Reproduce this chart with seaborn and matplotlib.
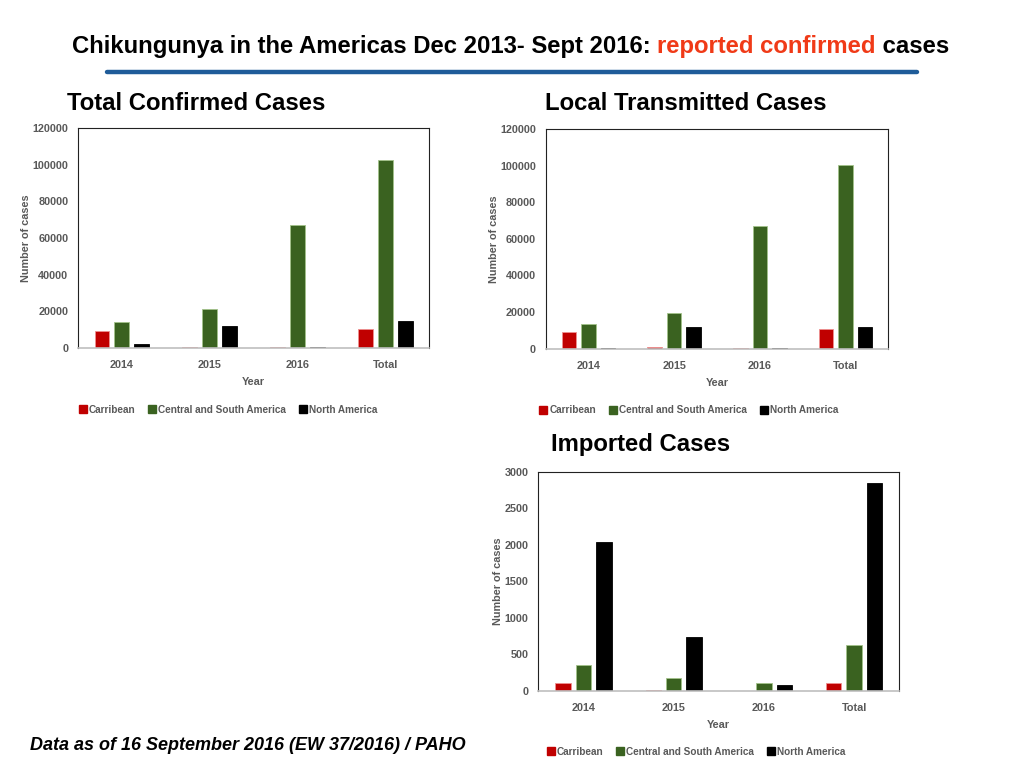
import pandas as pd
import numpy as np
import seaborn as sns
import matplotlib.pyplot as plt
from matplotlib.lines import Line2D

sns.set_style('white')
plt.rcParams['font.family'] = ['Liberation Sans', 'DejaVu Sans']
plt.rcParams['text.color'] = 'black'

# 数据
years = ['2014', '2015', '2016', 'Total']
regions = ['Carribean', 'Central and South America', 'North America']
colors = ['#C00000', '#3A6220', '#000000']
edges = ['#EE9090', '#A3C28A', '#000000']

total_carib = [9450, 730, 300, 10400]
total_csa = [14000, 21500, 66900, 102700]
total_na = [2400, 11800, 300, 14900]

local_carib = [9100, 1100, 350, 10600]
local_csa = [13700, 19300, 66900, 100100]
local_na = [550, 11700, 500, 12000]

imp_carib = [105, 15, 0, 105]
imp_csa = [352, 175, 105, 630]
imp_na = [2040, 730, 75, 2845]


def make_df(carib, csa, na):
    rows = []
    for reg, vals in zip(regions, [carib, csa, na]):
        for y, v in zip(years, vals):
            rows.append({'Year': y, 'Region': reg, 'Cases': v})
    return pd.DataFrame(rows)


gray = '#595959'

fig = plt.figure(figsize=(10.24, 7.68), dpi=100)


def draw(rect, df, ymax, step, leg_x):
    ax = fig.add_axes(rect)
    sns.barplot(data=df, x='Year', y='Cases', hue='Region', hue_order=regions,
                palette=colors, saturation=1, width=0.68, gap=0.25, ax=ax, legend=False)
    for i, cont in enumerate(ax.containers):
        for bar in cont:
            bar.set_edgecolor(edges[i])
            bar.set_linewidth(0.6)
    ax.set_ylim(0, ymax)
    ax.set_yticks(np.arange(0, ymax + 1, step))
    ax.set_xlim(-0.5, 3.5)
    for s in ['top', 'right', 'left']:
        ax.spines[s].set_color('#222222')
        ax.spines[s].set_linewidth(0.8)
    ax.spines['bottom'].set_color('#BFBFBF')
    ax.spines['bottom'].set_linewidth(1.2)
    ax.tick_params(axis='y', length=0, labelsize=7.8, labelcolor=gray, pad=7)
    ax.tick_params(axis='x', length=0, labelsize=7.8, labelcolor=gray, pad=9)
    for lab in ax.get_xticklabels() + ax.get_yticklabels():
        lab.set_fontweight('bold')
    ax.set_xlabel('Year', fontsize=7.8, color=gray, fontweight='bold', labelpad=5)
    ax.set_ylabel('Number of cases', fontsize=7.8, color=gray, fontweight='bold', labelpad=1)
    handles = [Line2D([], [], marker='s', linestyle='', color=c, markersize=5.5) for c in colors]
    ax.legend(handles, regions, loc='center', bbox_to_anchor=(leg_x, -0.28), ncol=3,
              frameon=False, handlelength=0.4, handletextpad=0.4,
              columnspacing=1.5, prop={'weight': 'bold', 'size': 7.2}, labelcolor=gray)
    return ax


draw([0.0762, 0.5469, 0.3428, 0.2865], make_df(total_carib, total_csa, total_na), 120000, 20000, 0.43)
draw([0.5329, 0.546, 0.3346, 0.286], make_df(local_carib, local_csa, local_na), 120000, 20000, 0.42)
draw([0.5257, 0.1007, 0.3525, 0.2852], make_df(imp_carib, imp_csa, imp_na), 3000, 500, 0.44)

# 小标题
fig.text(67 / 1024, 1 - 103 / 768, 'Total Confirmed Cases', fontsize=17.2, fontweight='bold', va='center')
fig.text(545 / 1024, 1 - 103 / 768, 'Local Transmitted Cases', fontsize=17.2, fontweight='bold', va='center')
fig.text(551 / 1024, 1 - 444 / 768, 'Imported Cases', fontsize=17.2, fontweight='bold', va='center')

# 主标题（多色）
renderer = fig.canvas.get_renderer()
parts = [('Chikungunya in the Americas Dec 2013- Sept 2016: ', 'black'),
         ('reported confirmed', '#F03A17'),
         (' cases', 'black')]
x = 72 / 1024
for txt, c in parts:
    t = fig.text(x, 1 - 53 / 768, txt, fontsize=17.2, fontweight='bold', color=c, va='baseline')
    bb = t.get_window_extent(renderer=renderer)
    x = bb.x1 / fig.bbox.width

# 蓝色分隔线
fig.add_artist(Line2D([107 / 1024, 917 / 1024], [1 - 72 / 768, 1 - 72 / 768],
                      color='#1F5C99', linewidth=3.2))

fig.text(30 / 1024, 1 - 745 / 768, 'Data as of 16 September 2016 (EW 37/2016) / PAHO',
         fontsize=13, fontweight='bold', fontstyle='italic', va='center')

plt.savefig('out.png', dpi=100)
